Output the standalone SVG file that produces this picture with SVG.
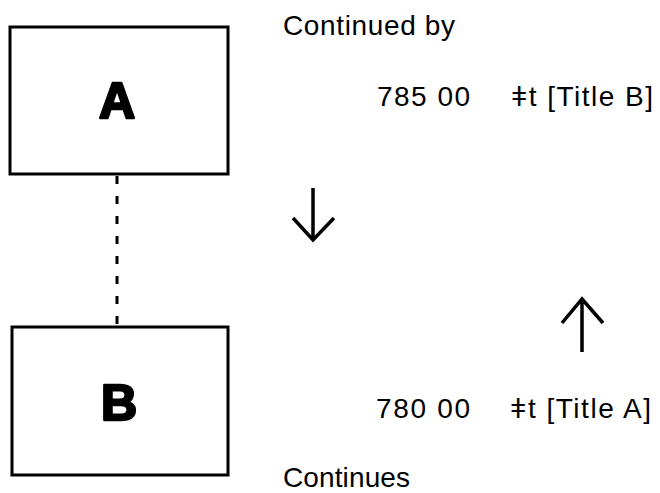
<svg xmlns="http://www.w3.org/2000/svg" width="660" height="493" viewBox="0 0 660 493">
<style>
.box{fill:#fff;stroke:#000;stroke-width:3}
.big{font-family:"Liberation Sans",Arial,sans-serif;font-weight:bold;font-size:50px;text-anchor:middle;stroke:#000;stroke-width:2.5;stroke-linejoin:round}
.t{font-family:"Liberation Sans","DejaVu Sans",Arial,sans-serif;font-size:28px;fill:#000}
.arr{fill:none;stroke:#000;stroke-width:3.5}
.dash{stroke:#000;stroke-width:3;stroke-dasharray:8 12}
</style>
<rect width="660" height="493" fill="#fff"/>
<g id="nodeA">
<rect class="box" x="10" y="27" width="218" height="147"/>
<text class="big" x="117" y="118">A</text>
</g>
<g id="nodeB">
<rect class="box" x="12" y="327" width="216" height="148"/>
<text class="big" x="119" y="420">B</text>
</g>
<g id="connectors">
<line class="dash" x1="117" y1="176" x2="117" y2="326"/>
<path class="arr" d="M313 188 V240 M293 218 L313 240 L334 218"/>
<path class="arr" d="M582 352 V299 M562 323 L582 299 L603 323"/>
</g>
<g id="labels">
<text class="t" x="283" y="35" textLength="172" lengthAdjust="spacing">Continued by</text>
<text class="t" x="377" y="106" textLength="93" lengthAdjust="spacing">785 00</text>
<text class="t" x="511" y="106" textLength="142" lengthAdjust="spacing">ǂt [Title B]</text>
<text class="t" x="376" y="418" textLength="94" lengthAdjust="spacing">780 00</text>
<text class="t" x="510" y="418" textLength="141" lengthAdjust="spacing">ǂt [Title A]</text>
<text class="t" x="283" y="487" textLength="127" lengthAdjust="spacing">Continues</text>
</g>
</svg>
